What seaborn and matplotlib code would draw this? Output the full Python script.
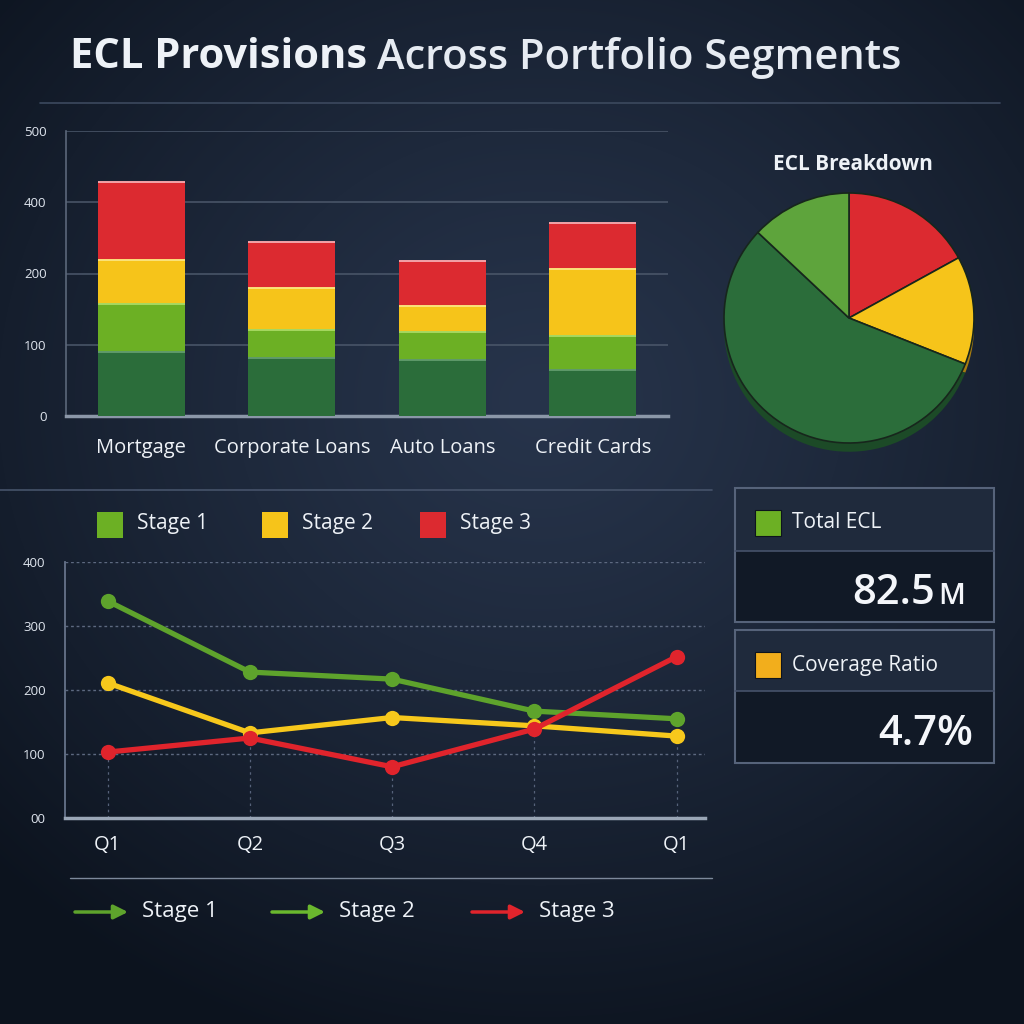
import numpy as np
import pandas as pd
import matplotlib
matplotlib.use("Agg")
import matplotlib.pyplot as plt
from matplotlib.patches import Rectangle
import seaborn as sns

# ---------------- data ----------------
segments = ["Mortgage", "Corporate Loans", "Auto Loans", "Credit Cards"]
stage1_base = [90, 81, 79, 65]      # dark green part
stage1_upper = [67, 40, 39, 47]     # light green part
stage2_vals = [62, 59, 36, 94]      # yellow
stage3_vals = [109, 64, 64, 65]     # red
bar_ytick_values = [0, 100, 200, 300, 400]
bar_ytick_labels = ["0", "100", "200", "400", "500"]

pie_labels = ["Stage 3", "Stage 2", "Stage 1", "Stage 1b"]
pie_values = [17, 14, 56, 13]

quarters = ["Q1", "Q2", "Q3", "Q4", "Q1"]
line_stage1 = [339, 228, 217, 167, 155]
line_stage2 = [211, 133, 157, 144, 128]
line_stage3 = [103, 125, 80, 139, 252]
line_ytick_values = [0, 100, 200, 300, 400]
line_ytick_labels = ["00", "100", "200", "300", "400"]

legend_names = ["Stage 1", "Stage 2", "Stage 3"]
kpi_labels = ["Total ECL", "Coverage Ratio"]
kpi_numbers = ["82.5", "4.7%"]
kpi_units = ["M", ""]

# ---------------- style ----------------
sns.set_theme(style="dark")
plt.rcParams['font.family'] = ['Open Sans', 'DejaVu Sans']

C_DG = '#2b6d3a'
C_LG = '#6cb024'
C_YE = '#f6c41a'
C_RE = '#dc2a30'
C_LINE_G = '#5ea32c'
C_LINE_Y = '#f7c81c'
C_LINE_R = '#e0242c'
TXT = '#eef2f7'

fig = plt.figure(figsize=(10.24, 10.24), dpi=100)
fig.patch.set_facecolor('#141d2b')


def rect(l, t, r, b):
    return [l / 1024, 1 - b / 1024, (r - l) / 1024, (b - t) / 1024]


# background gradient
bg = fig.add_axes([0, 0, 1, 1], zorder=0)
yy, xx = np.mgrid[0:1024, 0:1024]
d = np.sqrt(((xx - 540) / 760) ** 2 + ((yy - 400) / 680) ** 2)
tt = np.clip(d, 0, 1) ** 1.2
c_in = np.array([0x27, 0x34, 0x4b]) / 255
c_out = np.array([0x0c, 0x13, 0x1e]) / 255
img = c_in[None, None, :] * (1 - tt[..., None]) + c_out[None, None, :] * tt[..., None]
bg.imshow(img, extent=[0, 1024, 1024, 0], aspect='auto')
bg.set_xlim(0, 1024)
bg.set_ylim(1024, 0)
bg.axis('off')

# ---------------- stacked bars ----------------
axb = fig.add_axes(rect(66, 131, 668, 416), zorder=2)
axb.set_facecolor('none')
c1 = np.array(stage1_base)
c2 = c1 + np.array(stage1_upper)
c3 = c2 + np.array(stage2_vals)
c4 = c3 + np.array(stage3_vals)
for vals, col in [(c4, C_RE), (c3, C_YE), (c2, C_LG), (c1, C_DG)]:
    sns.barplot(x=segments, y=list(vals), color=col, saturation=1, width=0.58,
                ax=axb, linewidth=0, zorder=3)
for i in range(len(segments)):
    for top, hc in [(c4[i], '#f3a3a8'), (c3[i], '#fbe27a'), (c2[i], '#a6d860'), (c1[i], '#5f9a6a')]:
        axb.plot([i - 0.29, i + 0.29], [top, top], color=hc, lw=1.4, zorder=4,
                 solid_capstyle='butt')
axb.set_xlim(-0.5, 3.5)
axb.set_ylim(0, 400)
axb.set_yticks(bar_ytick_values)
axb.set_yticklabels(bar_ytick_labels)
axb.yaxis.grid(True, color='#4c586b', lw=1.1)
axb.xaxis.grid(False)
axb.set_axisbelow(True)
for s in ['top', 'right']:
    axb.spines[s].set_visible(False)
axb.spines['left'].set_color('#5b677a')
axb.spines['left'].set_linewidth(1.2)
axb.spines['bottom'].set_color('#8b97a8')
axb.spines['bottom'].set_linewidth(2.5)
axb.tick_params(axis='y', length=0, pad=14, labelsize=9.5, labelcolor='#dfe5ee')
axb.tick_params(axis='x', length=0, pad=16, labelsize=14.5, labelcolor=TXT)
axb.set_xlabel('')
axb.set_ylabel('')

# ---------------- pie ----------------
pcx, pcy, pr = 849, 318, 125
half = pr * 1.1
axp = fig.add_axes(rect(pcx - half, pcy - half, pcx + half, pcy + half), zorder=2)
axp.set_facecolor('none')
pie_cols = [C_RE, C_YE, C_DG, '#5ea43c']
dark_cols = ['#8e1a1f', '#a77c10', '#1c4a27', '#1c4a27']
axp.pie(pie_values, colors=dark_cols, startangle=90, counterclock=False,
        center=(0, -0.07), radius=1.0, wedgeprops=dict(linewidth=0))
axp.pie(pie_values, colors=pie_cols, startangle=90, counterclock=False,
        center=(0, 0), radius=1.0,
        wedgeprops=dict(edgecolor='#17261c', linewidth=1.2))
axp.set_xlim(-1.1, 1.1)
axp.set_ylim(-1.1, 1.1)
axp.set_aspect('equal')
axp.axis('off')

# ---------------- line chart ----------------
axl = fig.add_axes(rect(65, 562, 705, 818), zorder=2)
axl.set_facecolor('none')
xpos = list(range(len(quarters)))
df_line = pd.DataFrame({
    'x': xpos * 3,
    'value': line_stage1 + line_stage2 + line_stage3,
    'stage': [legend_names[0]] * 5 + [legend_names[1]] * 5 + [legend_names[2]] * 5,
})
mins = np.min(np.array([line_stage1, line_stage2, line_stage3]), axis=0)
axl.vlines(xpos, 0, mins, colors='#56627a', linestyles=(0, (2, 3)), lw=0.9, zorder=1)
sns.lineplot(data=df_line, x='x', y='value', hue='stage',
             hue_order=legend_names,
             palette=[C_LINE_G, C_LINE_Y, C_LINE_R],
             marker='o', markersize=11, markeredgewidth=0, linewidth=3.8,
             legend=False, ax=axl, zorder=3)
axl.set_xlim(-0.30, 4.20)
axl.set_ylim(0, 400)
axl.set_xticks(xpos)
axl.set_xticklabels(quarters)
axl.set_yticks(line_ytick_values)
axl.set_yticklabels(line_ytick_labels)
axl.yaxis.grid(True, color='#5d6980', lw=1, linestyle=(0, (2, 2)))
axl.xaxis.grid(False)
for s in ['top', 'right']:
    axl.spines[s].set_visible(False)
axl.spines['left'].set_color('#66738a')
axl.spines['left'].set_linewidth(1.3)
axl.spines['bottom'].set_color('#9aa6b6')
axl.spines['bottom'].set_linewidth(2.5)
axl.tick_params(axis='y', length=0, pad=14, labelsize=9.5, labelcolor='#dfe5ee')
axl.tick_params(axis='x', length=0, pad=12, labelsize=14.5, labelcolor=TXT)
axl.set_xlabel('')
axl.set_ylabel('')

# ---------------- overlay: titles, legends, KPI boxes ----------------
ov = fig.add_axes([0, 0, 1, 1], zorder=5)
ov.set_facecolor('none')
ov.set_xlim(0, 1024)
ov.set_ylim(1024, 0)
ov.axis('off')

t1 = ov.text(70, 58, "ECL Provisions", fontsize=30, fontweight='bold', color=TXT,
             va='center', ha='left')
fig.canvas.draw()
r = fig.canvas.get_renderer()
bb = t1.get_window_extent(r)
x_end = bb.x1 * 1024 / fig.bbox.width
ov.text(x_end + 10, 58, "Across Portfolio Segments", fontsize=30, fontweight='semibold',
        color='#e6ebf2', va='center', ha='left')

ov.plot([40, 1000], [103, 103], color='#3c495e', lw=1.2)
ov.plot([0, 712], [490, 490], color='#46536a', lw=1.2)
ov.plot([70, 712], [878, 878], color='#7d899b', lw=1.0)

ov.text(853, 165, "ECL Breakdown", fontsize=15, fontweight='bold', color=TXT,
        va='center', ha='center')

# square legend
sq_cols = [C_LG, C_YE, C_RE]
sq_x = [97, 262, 420]
for name, col, x in zip(legend_names, sq_cols, sq_x):
    ov.add_patch(Rectangle((x, 512), 26, 26, facecolor=col, edgecolor='none'))
    ov.text(x + 40, 524, name, fontsize=15, color=TXT, va='center', ha='left')

# arrow legend
arr_cols = [C_LINE_G, '#6ab82e', C_LINE_R]
arr_x = [75, 272, 472]
for name, col, x in zip(legend_names, arr_cols, arr_x):
    ov.annotate('', xy=(x + 53, 912), xytext=(x, 912),
                arrowprops=dict(arrowstyle='-|>,head_length=0.7,head_width=0.35',
                                color=col, lw=2.5, shrinkA=0, shrinkB=0))
    ov.text(x + 67, 912, name, fontsize=16, color=TXT, va='center', ha='left')

# KPI boxes
boxes = [(488, 551, 622), (630, 691, 763)]
kpi_sq = [C_LG, '#f2ae1c']
for (top, mid, bot), lab, num, unit, sc in zip(boxes, kpi_labels, kpi_numbers, kpi_units, kpi_sq):
    ov.add_patch(Rectangle((735, top), 259, mid - top, facecolor='#1f2a3c', edgecolor='none'))
    ov.add_patch(Rectangle((735, mid), 259, bot - mid, facecolor='#111926', edgecolor='none'))
    ov.add_patch(Rectangle((735, top), 259, bot - top, facecolor='none', edgecolor='#56637a', lw=1.5))
    ov.plot([735, 994], [mid, mid], color='#46526a', lw=1.2)
    ov.add_patch(Rectangle((755, top + 22), 26, 26, facecolor=sc, edgecolor='#0d141d', lw=0.8))
    ov.text(792, top + 35, lab, fontsize=15, color=TXT, va='center', ha='left')
    yb = bot - 18
    if unit:
        ov.text(938, yb, unit, fontsize=21, fontweight='semibold', color='#f4f6fa',
                va='baseline', ha='left')
        ov.text(935, yb, num, fontsize=30, fontweight='semibold', color='#f4f6fa',
                va='baseline', ha='right')
    else:
        ov.text(973, yb, num, fontsize=30, fontweight='semibold', color='#f4f6fa',
                va='baseline', ha='right')

fig.savefig('out.png', dpi=100, facecolor=fig.get_facecolor())
